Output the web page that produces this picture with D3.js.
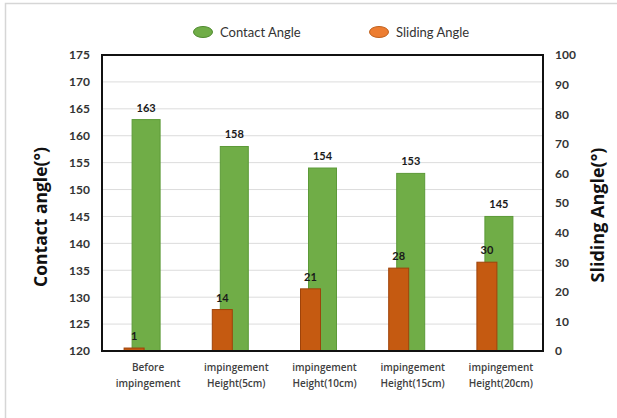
<!DOCTYPE html>
<html>
<head>
<meta charset="utf-8">
<script src="https://cdn.jsdelivr.net/npm/d3@7"></script>
<style>
  html, body { margin: 0; padding: 0; background: #fff; }
  svg { display: block; font-family: Lato, "Open Sans", sans-serif; }
</style>
</head>
<body>
<svg id="chart" width="617" height="418"></svg>
<script>
// Categories and measured angles
const categories = [
  ["Before", "impingement"],
  ["impingement", "Height(5cm)"],
  ["impingement", "Height(10cm)"],
  ["impingement", "Height(15cm)"],
  ["impingement", "Height(20cm)"]
];
const contactAngle = [163, 158, 154, 153, 145];
const slidingAngle = [1, 14, 21, 28, 30];
const leftTicks = [120, 125, 130, 135, 140, 145, 150, 155, 160, 165, 170, 175];
const rightTicks = [0, 10, 20, 30, 40, 50, 60, 70, 80, 90, 100];
const seriesNames = ["Contact Angle", "Sliding Angle"];

const svg = d3.select("#chart");
const plot = { left: 102, right: 543, top: 55, bottom: 351 };

// Outer chart border (top and left edges visible)
svg.append("path")
  .attr("d", "M5.5,418 L5.5,3.5 L617,3.5")
  .attr("fill", "none")
  .attr("stroke", "#d6d6d6")
  .attr("stroke-width", 1.5);

const x = d3.scaleBand()
  .domain(d3.range(categories.length))
  .range([plot.left, plot.right])
  .padding(0);
const yL = d3.scaleLinear().domain([120, 175]).range([plot.bottom, plot.top]);
const yR = d3.scaleLinear().domain([0, 100]).range([plot.bottom, plot.top]);

// Gridlines
svg.append("g").selectAll("line")
  .data(leftTicks.slice(1, -1))
  .join("line")
  .attr("x1", plot.left).attr("x2", plot.right)
  .attr("y1", d => yL(d)).attr("y2", d => yL(d))
  .attr("stroke", "#dcdcdc").attr("stroke-width", 1);

const greenW = 28, orangeW = 20, orangeOffset = -12;
const cx = i => x(i) + x.bandwidth() / 2;

// Contact angle bars (primary axis)
svg.append("g").selectAll("rect")
  .data(contactAngle)
  .join("rect")
  .attr("x", (d, i) => cx(i) - greenW / 2)
  .attr("width", greenW)
  .attr("y", d => yL(d))
  .attr("height", d => plot.bottom - yL(d))
  .attr("fill", "#70AD47")
  .attr("stroke", "#5c9a38")
  .attr("stroke-width", 1);

// Sliding angle bars (secondary axis), drawn in front
svg.append("g").selectAll("rect")
  .data(slidingAngle)
  .join("rect")
  .attr("x", (d, i) => cx(i) + orangeOffset - orangeW / 2)
  .attr("width", orangeW)
  .attr("y", d => yR(d))
  .attr("height", d => plot.bottom - yR(d))
  .attr("fill", "#C55A11")
  .attr("stroke", "#9e430a")
  .attr("stroke-width", 1);

// Value labels
svg.append("g").selectAll("text")
  .data(contactAngle)
  .join("text")
  .attr("x", (d, i) => cx(i))
  .attr("y", d => yL(d) - 8)
  .attr("text-anchor", "middle")
  .attr("font-size", 11).attr("font-weight", 700).attr("fill", "#1a1a1a")
  .text(d => d);
svg.append("g").selectAll("text")
  .data(slidingAngle)
  .join("text")
  .attr("x", (d, i) => cx(i) + orangeOffset)
  .attr("y", d => yR(d) - 8)
  .attr("text-anchor", "middle")
  .attr("font-size", 11).attr("font-weight", 700).attr("fill", "#1a1a1a")
  .text(d => d);

// Plot frame
svg.append("rect")
  .attr("x", plot.left).attr("y", plot.top)
  .attr("width", plot.right - plot.left).attr("height", plot.bottom - plot.top)
  .attr("fill", "none").attr("stroke", "#111").attr("stroke-width", 2);

// Left axis
const axL = svg.append("g")
  .attr("transform", `translate(${plot.left},0)`)
  .call(d3.axisLeft(yL).tickValues(leftTicks).tickSize(0).tickPadding(12));
axL.select(".domain").remove();
axL.selectAll("text")
  .attr("font-family", "Lato, sans-serif")
  .attr("font-size", 12).attr("font-weight", 700).attr("fill", "#333");

// Right axis
const axR = svg.append("g")
  .attr("transform", `translate(${plot.right},0)`)
  .call(d3.axisRight(yR).tickValues(rightTicks).tickSize(0).tickPadding(12));
axR.select(".domain").remove();
axR.selectAll("text")
  .attr("font-family", "Lato, sans-serif")
  .attr("font-size", 12).attr("font-weight", 700).attr("fill", "#333");

// Category labels
const catG = svg.append("g").selectAll("text")
  .data(categories)
  .join("text")
  .attr("x", (d, i) => cx(i) + 2)
  .attr("y", 371)
  .attr("text-anchor", "middle")
  .attr("font-family", "'Open Sans', sans-serif")
  .attr("font-size", 10).attr("font-weight", 600).attr("fill", "#404040");
catG.each(function(d) {
  const t = d3.select(this);
  d.forEach((line, k) => {
    t.append("tspan").attr("x", t.attr("x")).attr("dy", k === 0 ? 0 : 16).text(line);
  });
});

// Axis titles
svg.append("text")
  .attr("transform", `translate(47,${(plot.top + plot.bottom) / 2 + 14}) rotate(-90)`)
  .attr("text-anchor", "middle")
  .attr("font-family", "'Open Sans', sans-serif")
  .attr("font-size", 17.5).attr("font-weight", 700).attr("fill", "#111")
  .text("Contact angle(°)");
svg.append("text")
  .attr("transform", `translate(604,${(plot.top + plot.bottom) / 2 + 12}) rotate(-90)`)
  .attr("text-anchor", "middle")
  .attr("font-family", "'Open Sans', sans-serif")
  .attr("font-size", 18).attr("font-weight", 700).attr("fill", "#111")
  .text("Sliding Angle(°)");

// Legend
const legendItems = [
  { name: seriesNames[0], fill: "#70AD47", stroke: "#4f8a2f", x: 203 },
  { name: seriesNames[1], fill: "#ED7D31", stroke: "#c0601c", x: 379 }
];
const lg = svg.append("g").selectAll("g")
  .data(legendItems)
  .join("g")
  .attr("transform", d => `translate(${d.x},32)`);
lg.append("ellipse")
  .attr("rx", 9.5).attr("ry", 5.5)
  .attr("fill", d => d.fill).attr("stroke", d => d.stroke).attr("stroke-width", 1);
lg.append("text")
  .attr("x", 17).attr("y", 4.5)
  .attr("font-size", 13).attr("fill", "#333")
  .text(d => d.name);
</script>
</body>
</html>
